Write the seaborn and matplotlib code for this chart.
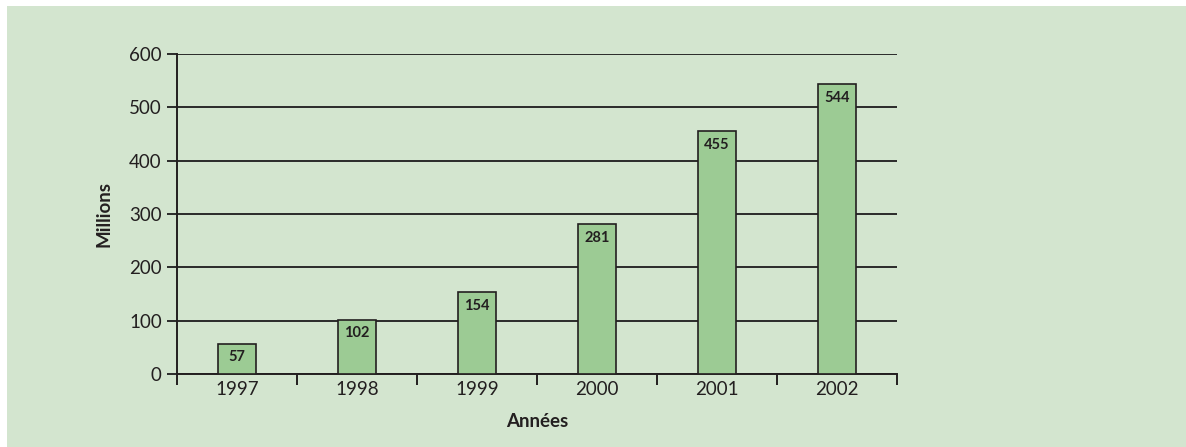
import matplotlib
matplotlib.use("Agg")
import matplotlib.pyplot as plt
from matplotlib.patches import Rectangle
from matplotlib.ticker import FixedLocator
import seaborn as sns
import pandas as pd

years = ["1997", "1998", "1999", "2000", "2001", "2002"]
millions = [57, 102, 154, 281, 455, 544]
y_ticks = [0, 100, 200, 300, 400, 500, 600]

panel_color = "#d3e5cf"
bar_color = "#9ccb94"
ink = "#231f20"

sns.set_style("white")
plt.rcParams["font.family"] = ["Lato", "DejaVu Sans"]

df = pd.DataFrame({"Années": years, "Millions": millions})

fig = plt.figure(figsize=(11.86, 4.47), dpi=100, facecolor="white")
fig.patches.append(Rectangle((7 / 1186, 0), 1 - 7 / 1186, 441 / 447,
                             transform=fig.transFigure, facecolor=panel_color,
                             edgecolor="none", zorder=-10))

ax = fig.add_axes([177 / 1186, 1 - 374 / 447, 720 / 1186, 320 / 447])
ax.set_facecolor("none")

sns.barplot(data=df, x="Années", y="Millions", order=years, color=bar_color,
            width=0.32, edgecolor=ink, linewidth=1.2, saturation=1, ax=ax, zorder=3)

for container in ax.containers:
    ax.bar_label(container, labels=[str(v) for v in millions], padding=-15,
                 fontsize=10.5, fontweight="bold", color=ink)

ax.set_xlim(-0.5, len(years) - 0.5)
ax.set_ylim(0, 600)
ax.set_yticks(y_ticks)
ax.yaxis.grid(True, color="#2a2a2a", linewidth=1.4, zorder=1)
ax.xaxis.grid(False)

# category separators as outward ticks on the x axis
ax.xaxis.set_minor_locator(FixedLocator([i - 0.5 for i in range(len(years) + 1)]))
ax.tick_params(axis="x", which="major", length=0, pad=5, labelsize=13.5, labelcolor=ink)
ax.tick_params(axis="x", which="minor", direction="out", length=8, width=1.4, color=ink, bottom=True)
ax.tick_params(axis="y", direction="out", length=7, width=1.4, color="#2a2a2a",
               labelsize=13.5, labelcolor=ink, left=True, pad=4)

for side in ["top", "right"]:
    ax.spines[side].set_visible(False)
for side in ["left", "bottom"]:
    ax.spines[side].set_color(ink)
    ax.spines[side].set_linewidth(1.4)

ax.set_xlabel("Années", fontsize=13.5, fontweight="bold", color=ink, labelpad=11)
ax.set_ylabel("Millions", fontsize=13.5, fontweight="bold", color=ink, labelpad=12)

fig.savefig("out.png", dpi=100, facecolor="white")
